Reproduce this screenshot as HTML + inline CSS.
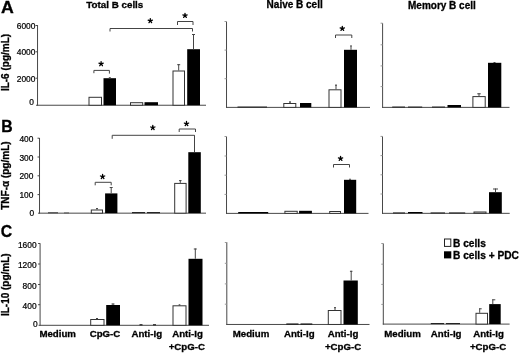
<!DOCTYPE html>
<html><head><meta charset="utf-8"><style>
html,body{margin:0;padding:0;background:#fff;}
body{width:520px;height:353px;overflow:hidden;}
svg{display:block;font-family:"Liberation Sans",sans-serif;will-change:transform;filter:blur(0.35px);}
text{fill:#000;} text[font-weight=bold]{stroke:#000;stroke-width:0.3px;} text[font-weight=normal]{stroke:#000;stroke-width:0.22px;}
</style></head><body>
<svg width="520" height="353" viewBox="0 0 520 353">
<rect width="520" height="353" fill="#fff"/>
<text x="0" y="0" font-size="16.4" font-weight="bold" text-anchor="start" transform="translate(0.9 12.6) scale(1.08 1)">A</text>
<text x="1.3" y="131.5" font-size="15.8" font-weight="bold" text-anchor="start" >B</text>
<text x="0.8" y="236.7" font-size="15.8" font-weight="bold" text-anchor="start" >C</text>
<text x="86.3" y="7.9" font-size="9.8" font-weight="bold" text-anchor="start" >Total B cells</text>
<text x="266.6" y="7.5" font-size="10" font-weight="bold" text-anchor="start" >Naive B cell</text>
<text x="408.0" y="8.5" font-size="10" font-weight="bold" text-anchor="start" >Memory B cell</text>
<line x1="37.54" y1="25" x2="37.54" y2="105.74" stroke="#484848" stroke-width="1.0"/>
<line x1="36.04" y1="105.24" x2="206" y2="105.24" stroke="#484848" stroke-width="1.0"/>
<line x1="35.54" y1="25.5" x2="37.54" y2="25.5" stroke="#484848" stroke-width="1"/>
<line x1="35.54" y1="51.8" x2="37.54" y2="51.8" stroke="#484848" stroke-width="1"/>
<line x1="35.54" y1="78.2" x2="37.54" y2="78.2" stroke="#484848" stroke-width="1"/>
<text x="35.4" y="29.1" font-size="8.4" font-weight="normal" text-anchor="end" >6000</text>
<text x="35.4" y="55.4" font-size="8.4" font-weight="normal" text-anchor="end" >4000</text>
<text x="35.4" y="81.8" font-size="8.4" font-weight="normal" text-anchor="end" >2000</text>
<text x="34.0" y="105.3" font-size="8.4" font-weight="normal" text-anchor="end" >0</text>
<rect x="89.0" y="97.3" width="12.5" height="7.939999999999998" fill="#fff" stroke="#333" stroke-width="1"/>
<rect x="103.5" y="78.2" width="12.5" height="27.039999999999992" fill="#000"/>
<line x1="109.8" y1="77.3" x2="109.8" y2="78.5" stroke="#444" stroke-width="1"/>
<line x1="108.8" y1="77.8" x2="110.8" y2="77.8" stroke="#444" stroke-width="1"/>
<rect x="130.5" y="102.7" width="12.199999999999989" height="2.539999999999992" fill="#fff" stroke="#333" stroke-width="1"/>
<rect x="144.5" y="102.2" width="13.5" height="3.039999999999992" fill="#000"/>
<rect x="173.0" y="71.0" width="11.5" height="34.239999999999995" fill="#fff" stroke="#333" stroke-width="1"/>
<line x1="178.7" y1="64.2" x2="178.7" y2="70.5" stroke="#444" stroke-width="1"/>
<line x1="177.2" y1="64.7" x2="180.2" y2="64.7" stroke="#444" stroke-width="1"/>
<rect x="187.2" y="49.2" width="12.800000000000011" height="56.03999999999999" fill="#000"/>
<line x1="193.5" y1="34" x2="193.5" y2="49.5" stroke="#444" stroke-width="1"/>
<line x1="192.0" y1="34.5" x2="195.0" y2="34.5" stroke="#444" stroke-width="1"/>
<polyline points="93.9,73.2 93.9,70.4 109.4,70.4 109.4,73.60000000000001" fill="none" stroke="#444" stroke-width="1"/>
<path d="M101.10,63.90L101.10,61.65M101.10,63.90L103.24,63.20M101.10,63.90L102.42,65.72M101.10,63.90L99.78,65.72M101.10,63.90L98.96,63.20" stroke="#000" stroke-width="1.3" stroke-linecap="round" fill="none"/>
<circle cx="101.1" cy="63.9" r="1.0" fill="#000"/>
<polyline points="177.5,25.0 177.5,21.5 193.0,21.5 193.0,25.0" fill="none" stroke="#444" stroke-width="1"/>
<path d="M185.00,15.60L185.00,13.35M185.00,15.60L187.14,14.90M185.00,15.60L186.32,17.42M185.00,15.60L183.68,17.42M185.00,15.60L182.86,14.90" stroke="#000" stroke-width="1.3" stroke-linecap="round" fill="none"/>
<circle cx="185" cy="15.6" r="1.0" fill="#000"/>
<polyline points="110,31.5 110,28.5 192.5,28.5 192.5,31.5" fill="none" stroke="#444" stroke-width="1"/>
<path d="M150.30,20.80L150.30,18.55M150.30,20.80L152.44,20.10M150.30,20.80L151.62,22.62M150.30,20.80L148.98,22.62M150.30,20.80L148.16,20.10" stroke="#000" stroke-width="1.3" stroke-linecap="round" fill="none"/>
<circle cx="150.3" cy="20.8" r="1.0" fill="#000"/>
<text x="9.1" y="62.5" font-size="10" font-weight="bold" text-anchor="middle" transform="rotate(-90 9.1 62.5)">IL-6 (pg/mL)</text>
<line x1="39.52" y1="138" x2="39.52" y2="213.66" stroke="#484848" stroke-width="1.0"/>
<line x1="38.02" y1="213.16" x2="206" y2="213.16" stroke="#484848" stroke-width="1.0"/>
<line x1="37.52" y1="138.2" x2="39.52" y2="138.2" stroke="#484848" stroke-width="1"/>
<line x1="37.52" y1="157" x2="39.52" y2="157" stroke="#484848" stroke-width="1"/>
<line x1="37.52" y1="175.8" x2="39.52" y2="175.8" stroke="#484848" stroke-width="1"/>
<line x1="37.52" y1="194.6" x2="39.52" y2="194.6" stroke="#484848" stroke-width="1"/>
<text x="33.4" y="141.79999999999998" font-size="8.4" font-weight="normal" text-anchor="end" >400</text>
<text x="33.4" y="160.6" font-size="8.4" font-weight="normal" text-anchor="end" >300</text>
<text x="33.4" y="179.4" font-size="8.4" font-weight="normal" text-anchor="end" >200</text>
<text x="33.4" y="198.2" font-size="8.4" font-weight="normal" text-anchor="end" >100</text>
<text x="34.2" y="215.5" font-size="8.4" font-weight="normal" text-anchor="end" >0</text>
<rect x="48" y="212.5" width="10" height="0.6599999999999966" fill="#000"/>
<rect x="64" y="212.7" width="5" height="0.46000000000000796" fill="#000"/>
<rect x="91.3" y="210.0" width="11.200000000000003" height="3.1599999999999966" fill="#fff" stroke="#333" stroke-width="1"/>
<line x1="97" y1="208.1" x2="97" y2="209.5" stroke="#444" stroke-width="1"/>
<line x1="96.0" y1="208.6" x2="98.0" y2="208.6" stroke="#444" stroke-width="1"/>
<rect x="105.1" y="193.4" width="12.300000000000011" height="19.75999999999999" fill="#000"/>
<line x1="111.2" y1="187" x2="111.2" y2="193.4" stroke="#444" stroke-width="1"/>
<line x1="109.7" y1="187.5" x2="112.7" y2="187.5" stroke="#444" stroke-width="1"/>
<rect x="132" y="212.2" width="13" height="0.960000000000008" fill="#000"/>
<rect x="147" y="212.2" width="13" height="0.960000000000008" fill="#000"/>
<rect x="174.7" y="183.4" width="11.400000000000006" height="29.75999999999999" fill="#fff" stroke="#333" stroke-width="1"/>
<line x1="180.3" y1="180.1" x2="180.3" y2="182.9" stroke="#444" stroke-width="1"/>
<line x1="179.05" y1="180.6" x2="181.55" y2="180.6" stroke="#444" stroke-width="1"/>
<rect x="188.3" y="152.2" width="12.5" height="60.96000000000001" fill="#000"/>
<line x1="194.5" y1="135.5" x2="194.5" y2="152.2" stroke="#444" stroke-width="1"/>
<polyline points="95.2,185.3 95.2,182.3 111.2,182.3 111.2,185.3" fill="none" stroke="#444" stroke-width="1"/>
<path d="M102.60,176.70L102.60,174.45M102.60,176.70L104.74,176.00M102.60,176.70L103.92,178.52M102.60,176.70L101.28,178.52M102.60,176.70L100.46,176.00" stroke="#000" stroke-width="1.3" stroke-linecap="round" fill="none"/>
<circle cx="102.6" cy="176.7" r="1.0" fill="#000"/>
<polyline points="179.2,132 179.2,129 195.5,129 195.5,132" fill="none" stroke="#444" stroke-width="1"/>
<path d="M186.50,123.75L186.50,121.50M186.50,123.75L188.64,123.05M186.50,123.75L187.82,125.57M186.50,123.75L185.18,125.57M186.50,123.75L184.36,123.05" stroke="#000" stroke-width="1.3" stroke-linecap="round" fill="none"/>
<circle cx="186.5" cy="123.75" r="1.0" fill="#000"/>
<polyline points="112.2,138.8 112.2,135.3 194.5,135.3 194.5,138.3" fill="none" stroke="#444" stroke-width="1"/>
<path d="M152.80,127.70L152.80,125.45M152.80,127.70L154.94,127.00M152.80,127.70L154.12,129.52M152.80,127.70L151.48,129.52M152.80,127.70L150.66,127.00" stroke="#000" stroke-width="1.3" stroke-linecap="round" fill="none"/>
<circle cx="152.8" cy="127.7" r="1.0" fill="#000"/>
<text x="9.3" y="175.6" font-size="10" font-weight="bold" text-anchor="middle" transform="rotate(-90 9.3 175.6)">TNF-α (pg/mL)</text>
<line x1="40.09" y1="243.3" x2="40.09" y2="325.8" stroke="#484848" stroke-width="1.0"/>
<line x1="38.59" y1="325.3" x2="209" y2="325.3" stroke="#484848" stroke-width="1.0"/>
<line x1="38.09" y1="243.5" x2="40.09" y2="243.5" stroke="#484848" stroke-width="1"/>
<line x1="38.09" y1="264" x2="40.09" y2="264" stroke="#484848" stroke-width="1"/>
<line x1="38.09" y1="284.5" x2="40.09" y2="284.5" stroke="#484848" stroke-width="1"/>
<line x1="38.09" y1="304.7" x2="40.09" y2="304.7" stroke="#484848" stroke-width="1"/>
<text x="36.6" y="247.5" font-size="8.4" font-weight="normal" text-anchor="end" >1600</text>
<text x="36.6" y="268.0" font-size="8.4" font-weight="normal" text-anchor="end" >1200</text>
<text x="36.6" y="288.5" font-size="8.4" font-weight="normal" text-anchor="end" >800</text>
<text x="36.6" y="308.7" font-size="8.4" font-weight="normal" text-anchor="end" >400</text>
<text x="37.6" y="327.2" font-size="8.4" font-weight="normal" text-anchor="end" >0</text>
<rect x="90.7" y="319.5" width="13.299999999999997" height="5.800000000000011" fill="#fff" stroke="#333" stroke-width="1"/>
<line x1="97" y1="318" x2="97" y2="319.5" stroke="#444" stroke-width="1"/>
<line x1="96.0" y1="318.5" x2="98.0" y2="318.5" stroke="#444" stroke-width="1"/>
<rect x="106.2" y="305" width="13.799999999999997" height="20.30000000000001" fill="#000"/>
<line x1="113" y1="303.5" x2="113" y2="305" stroke="#444" stroke-width="1"/>
<line x1="111.5" y1="304.0" x2="114.5" y2="304.0" stroke="#444" stroke-width="1"/>
<rect x="139.5" y="324.3" width="3.0" height="1.0" fill="#000"/>
<rect x="153" y="324.3" width="3" height="1.0" fill="#000"/>
<rect x="173.0" y="305.8" width="13.0" height="19.5" fill="#fff" stroke="#333" stroke-width="1"/>
<line x1="179.5" y1="304.5" x2="179.5" y2="305.3" stroke="#444" stroke-width="1"/>
<line x1="178.5" y1="305.0" x2="180.5" y2="305.0" stroke="#444" stroke-width="1"/>
<rect x="188.5" y="258.8" width="14.0" height="66.5" fill="#000"/>
<line x1="195.3" y1="248.5" x2="195.3" y2="258.8" stroke="#444" stroke-width="1"/>
<line x1="193.8" y1="249.0" x2="196.8" y2="249.0" stroke="#444" stroke-width="1"/>
<text x="9.2" y="284.7" font-size="10" font-weight="bold" text-anchor="middle" transform="rotate(-90 9.2 284.7)">IL-10 (pg/mL)</text>
<line x1="226.52" y1="21.5" x2="226.52" y2="107.88" stroke="#484848" stroke-width="1.0"/>
<line x1="226.02" y1="107.38" x2="370" y2="107.38" stroke="#484848" stroke-width="1.0"/>
<line x1="224.52" y1="21.5" x2="226.52" y2="21.5" stroke="#999" stroke-width="1"/>
<line x1="224.52" y1="50.1" x2="226.52" y2="50.1" stroke="#999" stroke-width="1"/>
<line x1="224.52" y1="78.7" x2="226.52" y2="78.7" stroke="#999" stroke-width="1"/>
<rect x="237.5" y="106.6" width="29.5" height="0.7800000000000011" fill="#000"/>
<rect x="283.8" y="103.5" width="12.0" height="3.8799999999999955" fill="#fff" stroke="#333" stroke-width="1"/>
<line x1="290" y1="101.5" x2="290" y2="103" stroke="#444" stroke-width="1"/>
<line x1="289.0" y1="102.0" x2="291.0" y2="102.0" stroke="#444" stroke-width="1"/>
<rect x="300" y="103" width="11.300000000000011" height="4.3799999999999955" fill="#000"/>
<rect x="329.0" y="89.8" width="12.0" height="17.58" fill="#fff" stroke="#333" stroke-width="1"/>
<line x1="336" y1="84.7" x2="336" y2="89.3" stroke="#444" stroke-width="1"/>
<line x1="335.0" y1="85.2" x2="337.0" y2="85.2" stroke="#444" stroke-width="1"/>
<rect x="344" y="49.8" width="13" height="57.58" fill="#000"/>
<line x1="351" y1="45.5" x2="351" y2="49.8" stroke="#444" stroke-width="1"/>
<line x1="350.25" y1="46.0" x2="351.75" y2="46.0" stroke="#444" stroke-width="1"/>
<polyline points="335.5,38 335.5,35 351.8,35 351.8,38" fill="none" stroke="#444" stroke-width="1"/>
<path d="M342.30,28.60L342.30,26.35M342.30,28.60L344.44,27.90M342.30,28.60L343.62,30.42M342.30,28.60L340.98,30.42M342.30,28.60L340.16,27.90" stroke="#000" stroke-width="1.3" stroke-linecap="round" fill="none"/>
<circle cx="342.3" cy="28.6" r="1.0" fill="#000"/>
<line x1="226.52" y1="136.5" x2="226.52" y2="213.88" stroke="#484848" stroke-width="1.0"/>
<line x1="226.02" y1="213.38" x2="368.5" y2="213.38" stroke="#484848" stroke-width="1.0"/>
<line x1="224.52" y1="136.5" x2="226.52" y2="136.5" stroke="#999" stroke-width="1"/>
<line x1="224.52" y1="156" x2="226.52" y2="156" stroke="#999" stroke-width="1"/>
<line x1="224.52" y1="175.2" x2="226.52" y2="175.2" stroke="#999" stroke-width="1"/>
<line x1="224.52" y1="194.4" x2="226.52" y2="194.4" stroke="#999" stroke-width="1"/>
<rect x="238.2" y="212.0" width="30.0" height="1.3799999999999955" fill="#000"/>
<rect x="284.9" y="211.3" width="12.300000000000011" height="2.079999999999984" fill="#fff" stroke="#333" stroke-width="1"/>
<rect x="299.1" y="210.8" width="12.799999999999955" height="2.579999999999984" fill="#000"/>
<rect x="329.7" y="211.5" width="10.800000000000011" height="1.8799999999999955" fill="#fff" stroke="#333" stroke-width="1"/>
<rect x="344" y="179.8" width="12.199999999999989" height="33.579999999999984" fill="#000"/>
<line x1="350" y1="178.8" x2="350" y2="179.8" stroke="#444" stroke-width="1"/>
<line x1="349.25" y1="179.3" x2="350.75" y2="179.3" stroke="#444" stroke-width="1"/>
<polyline points="333.5,167.5 333.5,164.5 349.5,164.5 349.5,167.5" fill="none" stroke="#444" stroke-width="1"/>
<path d="M340.55,158.60L340.55,156.35M340.55,158.60L342.69,157.90M340.55,158.60L341.87,160.42M340.55,158.60L339.23,160.42M340.55,158.60L338.41,157.90" stroke="#000" stroke-width="1.3" stroke-linecap="round" fill="none"/>
<circle cx="340.55" cy="158.6" r="1.0" fill="#000"/>
<line x1="226.8" y1="242.2" x2="226.8" y2="324.96" stroke="#484848" stroke-width="1.0"/>
<line x1="226.3" y1="324.46" x2="369.5" y2="324.46" stroke="#484848" stroke-width="1.0"/>
<line x1="224.8" y1="242.5" x2="226.8" y2="242.5" stroke="#999" stroke-width="1"/>
<line x1="224.8" y1="263.3" x2="226.8" y2="263.3" stroke="#999" stroke-width="1"/>
<line x1="224.8" y1="283.9" x2="226.8" y2="283.9" stroke="#999" stroke-width="1"/>
<line x1="224.8" y1="304.2" x2="226.8" y2="304.2" stroke="#999" stroke-width="1"/>
<rect x="286.3" y="323.5" width="12.199999999999989" height="0.9599999999999795" fill="#000"/>
<rect x="300.5" y="323.5" width="11.800000000000011" height="0.9599999999999795" fill="#000"/>
<rect x="328.3" y="310.5" width="12.699999999999989" height="13.95999999999998" fill="#fff" stroke="#333" stroke-width="1"/>
<line x1="335" y1="307.2" x2="335" y2="310" stroke="#444" stroke-width="1"/>
<line x1="334.0" y1="307.7" x2="336.0" y2="307.7" stroke="#444" stroke-width="1"/>
<rect x="343.5" y="280.5" width="14.300000000000011" height="43.95999999999998" fill="#000"/>
<line x1="351.2" y1="270.8" x2="351.2" y2="280.5" stroke="#444" stroke-width="1"/>
<line x1="349.95" y1="271.3" x2="352.45" y2="271.3" stroke="#444" stroke-width="1"/>
<line x1="382.6" y1="23.2" x2="382.6" y2="107.88" stroke="#484848" stroke-width="1.0"/>
<line x1="382.1" y1="107.38" x2="509.5" y2="107.38" stroke="#484848" stroke-width="1.0"/>
<line x1="380.6" y1="23.2" x2="382.6" y2="23.2" stroke="#999" stroke-width="1"/>
<line x1="380.6" y1="44.8" x2="382.6" y2="44.8" stroke="#999" stroke-width="1"/>
<line x1="380.6" y1="65.9" x2="382.6" y2="65.9" stroke="#999" stroke-width="1"/>
<line x1="380.6" y1="86.6" x2="382.6" y2="86.6" stroke="#999" stroke-width="1"/>
<rect x="392.2" y="106.6" width="12.800000000000011" height="0.7800000000000011" fill="#000"/>
<rect x="408" y="106.6" width="14.199999999999989" height="0.7800000000000011" fill="#000"/>
<rect x="432" y="106.6" width="13" height="0.7800000000000011" fill="#000"/>
<rect x="447.5" y="105" width="13.5" height="2.3799999999999955" fill="#000"/>
<rect x="472.9" y="96.6" width="12.300000000000011" height="10.780000000000001" fill="#fff" stroke="#333" stroke-width="1"/>
<line x1="479" y1="93.3" x2="479" y2="96.1" stroke="#444" stroke-width="1"/>
<line x1="477.25" y1="93.8" x2="480.75" y2="93.8" stroke="#444" stroke-width="1"/>
<rect x="488" y="62.8" width="13.300000000000011" height="44.58" fill="#000"/>
<line x1="494.5" y1="62" x2="494.5" y2="62.8" stroke="#444" stroke-width="1"/>
<line x1="493.5" y1="62.5" x2="495.5" y2="62.5" stroke="#444" stroke-width="1"/>
<line x1="382.5" y1="136.4" x2="382.5" y2="213.83" stroke="#484848" stroke-width="1.0"/>
<line x1="382.0" y1="213.33" x2="509.7" y2="213.33" stroke="#484848" stroke-width="1.0"/>
<line x1="380.5" y1="136.4" x2="382.5" y2="136.4" stroke="#999" stroke-width="1"/>
<line x1="380.5" y1="155.6" x2="382.5" y2="155.6" stroke="#999" stroke-width="1"/>
<line x1="380.5" y1="174.8" x2="382.5" y2="174.8" stroke="#999" stroke-width="1"/>
<line x1="380.5" y1="194" x2="382.5" y2="194" stroke="#999" stroke-width="1"/>
<rect x="393" y="212.5" width="12" height="0.8300000000000125" fill="#000"/>
<rect x="408" y="212.0" width="14.5" height="1.3300000000000125" fill="#000"/>
<rect x="430.6" y="212.5" width="14.399999999999977" height="0.8300000000000125" fill="#000"/>
<rect x="449" y="212.5" width="16.19999999999999" height="0.8300000000000125" fill="#000"/>
<rect x="474.0" y="212.0" width="12.0" height="1.3300000000000125" fill="#fff" stroke="#333" stroke-width="1"/>
<rect x="489" y="192.2" width="12.800000000000011" height="21.130000000000024" fill="#000"/>
<line x1="495.5" y1="188.5" x2="495.5" y2="192.2" stroke="#444" stroke-width="1"/>
<line x1="493.0" y1="189.0" x2="498.0" y2="189.0" stroke="#444" stroke-width="1"/>
<line x1="383.3" y1="243.5" x2="383.3" y2="324.6" stroke="#484848" stroke-width="1.0"/>
<line x1="382.8" y1="324.1" x2="509.6" y2="324.1" stroke="#484848" stroke-width="1.0"/>
<line x1="381.3" y1="243.5" x2="383.3" y2="243.5" stroke="#999" stroke-width="1"/>
<line x1="381.3" y1="264.2" x2="383.3" y2="264.2" stroke="#999" stroke-width="1"/>
<line x1="381.3" y1="284.4" x2="383.3" y2="284.4" stroke="#999" stroke-width="1"/>
<line x1="381.3" y1="304.4" x2="383.3" y2="304.4" stroke="#999" stroke-width="1"/>
<rect x="430.8" y="323.2" width="13.199999999999989" height="0.9000000000000341" fill="#000"/>
<rect x="446" y="323.2" width="14" height="0.9000000000000341" fill="#000"/>
<rect x="476.0" y="313.3" width="11.5" height="10.800000000000011" fill="#fff" stroke="#333" stroke-width="1"/>
<line x1="479.7" y1="308.3" x2="479.7" y2="312.8" stroke="#444" stroke-width="1"/>
<line x1="479.2" y1="308.8" x2="481.7" y2="308.8" stroke="#444" stroke-width="1"/>
<rect x="489.2" y="304.1" width="11.5" height="20.0" fill="#000"/>
<line x1="492.8" y1="299.3" x2="492.8" y2="304.1" stroke="#444" stroke-width="1"/>
<line x1="492.3" y1="299.8" x2="495.3" y2="299.8" stroke="#444" stroke-width="1"/>
<rect x="444.5" y="239.0" width="6.300000000000011" height="7.400000000000006" fill="#fff" stroke="#222" stroke-width="1"/>
<rect x="444" y="251.3" width="7.300000000000011" height="7.099999999999966" fill="#000"/>
<text x="453.0" y="246.5" font-size="10.2" font-weight="bold" text-anchor="start" >B cells</text>
<text x="453.0" y="258.5" font-size="10.2" font-weight="bold" text-anchor="start" >B cells + PDC</text>
<text x="57.7" y="337.4" font-size="9.7" font-weight="bold" text-anchor="middle" >Medium</text>
<text x="105.0" y="337.4" font-size="9.7" font-weight="bold" text-anchor="middle" >CpG-C</text>
<text x="146.8" y="337.4" font-size="9.7" font-weight="bold" text-anchor="middle" >Anti-Ig</text>
<text x="187.5" y="337.4" font-size="9.7" font-weight="bold" text-anchor="middle" >Anti-Ig</text>
<text x="186.8" y="350.4" font-size="9.7" font-weight="bold" text-anchor="middle" >+CpG-C</text>
<text x="251.0" y="337.4" font-size="9.7" font-weight="bold" text-anchor="middle" >Medium</text>
<text x="299.3" y="337.4" font-size="9.7" font-weight="bold" text-anchor="middle" >Anti-Ig</text>
<text x="343.0" y="337.4" font-size="9.7" font-weight="bold" text-anchor="middle" >Anti-Ig</text>
<text x="343.1" y="350.4" font-size="9.7" font-weight="bold" text-anchor="middle" >+CpG-C</text>
<text x="402.5" y="337.4" font-size="9.7" font-weight="bold" text-anchor="middle" >Medium</text>
<text x="446.2" y="337.4" font-size="9.7" font-weight="bold" text-anchor="middle" >Anti-Ig</text>
<text x="488.5" y="337.4" font-size="9.7" font-weight="bold" text-anchor="middle" >Anti-Ig</text>
<text x="488.1" y="350.4" font-size="9.7" font-weight="bold" text-anchor="middle" >+CpG-C</text>
</svg>
</body></html>
